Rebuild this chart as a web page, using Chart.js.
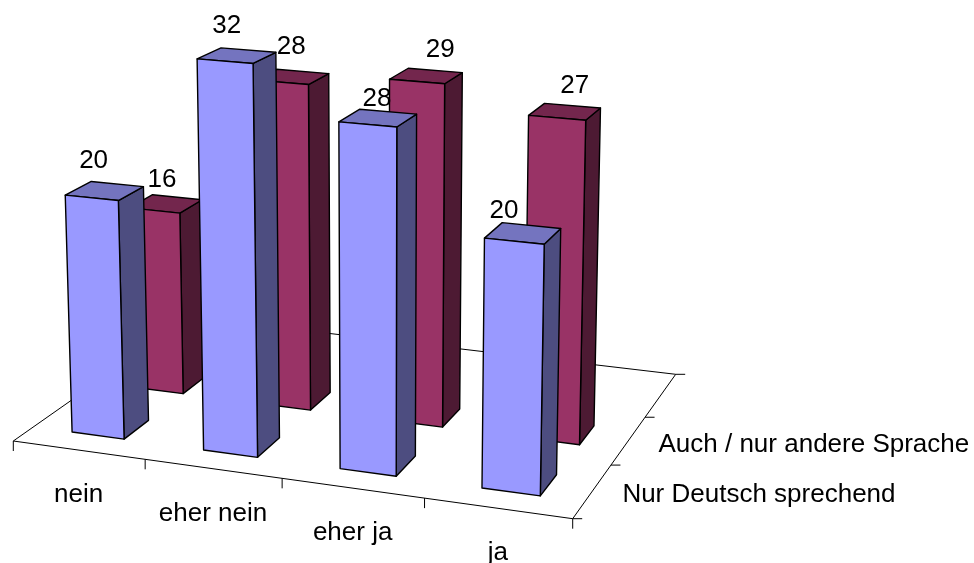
<!DOCTYPE html>
<html>
<head>
<meta charset="utf-8">
<title>3D Säulen</title>
<script src="https://cdn.jsdelivr.net/npm/chart.js@4"></script>
<style>
    html, body { margin: 0; padding: 0; background: #fff; }
    canvas { display: block; }
</style>
</head>
<body>
<canvas id="chart" width="974" height="563"></canvas>
<script>
const categories = ['nein', 'eher nein', 'eher ja', 'ja'];
const seriesNames = ['Nur Deutsch sprechend', 'Auch / nur andere Sprache'];
const nurDeutschValues = [20, 32, 28, 20];
const andereSpracheValues = [16, 28, 29, 27];

// third row of the floor stays empty, like in the original
const rowCount = 3;
const barDepth = 0.4;
const axisMax = 35;

const seriesColors = [
    { front: '#9999ff', top: '#7474bf', side: '#4d4d80' },
    { front: '#993366', top: '#73264d', side: '#4d1a33' }
];

// floor corners on screen: front left, front right, back right, back left
const floor = [[13.3, 441], [572.7, 518.7], [675.7, 374.3], [190, 317]];
const verticalVanish = [378, 11000];
const heightFactor = -0.0388;

const fontFamily = '"Liberation Sans", Arial, sans-serif';
const fontSize = 26;

// value labels sit where the original put them, per row then per category
const labelNudges = [
    [[-11, -23], [-10, -23], [-1, -12], [-19, -15]],
    [[-4, -17], [-1, -23], [14, -19], [10, -19]]
];

function buildFloorMatrix(q) {
    const dx1 = q[1][0] - q[2][0], dx2 = q[3][0] - q[2][0], sx = q[0][0] - q[1][0] + q[2][0] - q[3][0];
    const dy1 = q[1][1] - q[2][1], dy2 = q[3][1] - q[2][1], sy = q[0][1] - q[1][1] + q[2][1] - q[3][1];
    const den = dx1 * dy2 - dx2 * dy1;
    const g = (sx * dy2 - dx2 * sy) / den;
    const h = (dx1 * sy - sx * dy1) / den;
    return {
        a: q[1][0] - q[0][0] + g * q[1][0], b: q[3][0] - q[0][0] + h * q[3][0], c: q[0][0],
        d: q[1][1] - q[0][1] + g * q[1][1], e: q[3][1] - q[0][1] + h * q[3][1], f: q[0][1],
        g, h
    };
}

const floorMatrix = buildFloorMatrix(floor);

// u along categories, v along series rows, n is height, all 0..1
function project(u, v, n) {
    const m = floorMatrix;
    const k = heightFactor * (n || 0);
    const w = m.g * u + m.h * v + 1 + k;
    return [
        (m.a * u + m.b * v + m.c + k * verticalVanish[0]) / w,
        (m.d * u + m.e * v + m.f + k * verticalVanish[1]) / w
    ];
}

function strokeLine(ctx, from, to) {
    ctx.beginPath();
    ctx.moveTo(from[0], from[1]);
    ctx.lineTo(to[0], to[1]);
    ctx.stroke();
}

function fillFace(ctx, points, color) {
    ctx.beginPath();
    points.forEach((p, i) => (i ? ctx.lineTo(p[0], p[1]) : ctx.moveTo(p[0], p[1])));
    ctx.closePath();
    ctx.fillStyle = color;
    ctx.fill();
    ctx.stroke();
}

function drawFloor(ctx) {
    ctx.strokeStyle = '#000';
    ctx.lineWidth = 1;
    strokeLine(ctx, project(0, 0), project(1, 0));
    strokeLine(ctx, project(1, 0), project(1, 1));
    strokeLine(ctx, project(1, 1), project(0, 1));
    strokeLine(ctx, project(0, 1), project(0, 0));
    categories.concat('').forEach((_, i) => {
        const p = project(i / categories.length, 0);
        strokeLine(ctx, p, [p[0], p[1] + 10]);
    });
    for (let i = 0; i <= rowCount; i++) {
        const p = project(1, i / rowCount);
        strokeLine(ctx, p, [p[0] + 9.5, p[1]]);
    }
}

function drawAxisLabels(ctx, chart) {
    ctx.fillStyle = '#000';
    ctx.font = fontSize + 'px ' + fontFamily;
    ctx.textBaseline = 'alphabetic';
    ctx.textAlign = 'center';
    const xScale = chart.scales.x;
    const area = chart.chartArea;
    categories.forEach((name, i) => {
        const p = project((xScale.getPixelForValue(i) - area.left) / area.width, 0);
        ctx.fillText(name, p[0], p[1] + 52);
    });
    ctx.textAlign = 'left';
    chart.data.datasets.forEach((dataset, row) => {
        const p = project(1, (row + 0.5) / rowCount);
        ctx.fillText(dataset.label, p[0] + 30, p[1] + 11);
    });
}

function drawBar(ctx, el, area, row, colors) {
    const u0 = (el.x - el.width / 2 - area.left) / area.width;
    const u1 = (el.x + el.width / 2 - area.left) / area.width;
    const v0 = (row + (1 - barDepth) / 2) / rowCount;
    const v1 = (row + (1 + barDepth) / 2) / rowCount;
    const n = (el.base - el.y) / area.height;

    ctx.strokeStyle = '#000';
    ctx.lineWidth = 1.4;
    ctx.lineJoin = 'round';
    fillFace(ctx, [project(u1, v0, 0), project(u1, v1, 0), project(u1, v1, n), project(u1, v0, n)], colors.side);
    fillFace(ctx, [project(u0, v0, n), project(u1, v0, n), project(u1, v1, n), project(u0, v1, n)], colors.top);
    fillFace(ctx, [project(u0, v0, 0), project(u1, v0, 0), project(u1, v0, n), project(u0, v0, n)], colors.front);

    return project((u0 + u1) / 2, (v0 + v1) / 2, n);
}

const bars3dPlugin = {
    id: 'bars3d',
    beforeDatasetsDraw(chart) {
        const ctx = chart.ctx;
        const area = chart.chartArea;
        const labels = [];
        ctx.save();
        drawFloor(ctx);
        drawAxisLabels(ctx, chart);
        for (let row = chart.data.datasets.length - 1; row >= 0; row--) {
            const values = chart.data.datasets[row].data;
            chart.getDatasetMeta(row).data.forEach((el, i) => {
                const top = drawBar(ctx, el, area, row, seriesColors[row]);
                const nudge = labelNudges[row][i];
                labels.push({ text: String(values[i]), x: top[0] + nudge[0], y: top[1] + nudge[1] });
            });
        }
        ctx.fillStyle = '#000';
        ctx.font = fontSize + 'px ' + fontFamily;
        ctx.textAlign = 'center';
        ctx.textBaseline = 'alphabetic';
        labels.forEach(l => ctx.fillText(l.text, l.x, l.y));
        ctx.restore();
        return false;
    }
};

new Chart(document.getElementById('chart'), {
    type: 'bar',
    data: {
        labels: categories,
        datasets: [
            { label: seriesNames[0], data: nurDeutschValues },
            { label: seriesNames[1], data: andereSpracheValues }
        ]
    },
    options: {
        responsive: false,
        animation: false,
        grouped: false,
        barPercentage: 0.4,
        categoryPercentage: 1,
        plugins: { legend: { display: false }, tooltip: { enabled: false } },
        scales: {
            x: { display: false },
            y: { display: false, min: 0, max: axisMax }
        }
    },
    plugins: [bars3dPlugin]
});
</script>
</body>
</html>
